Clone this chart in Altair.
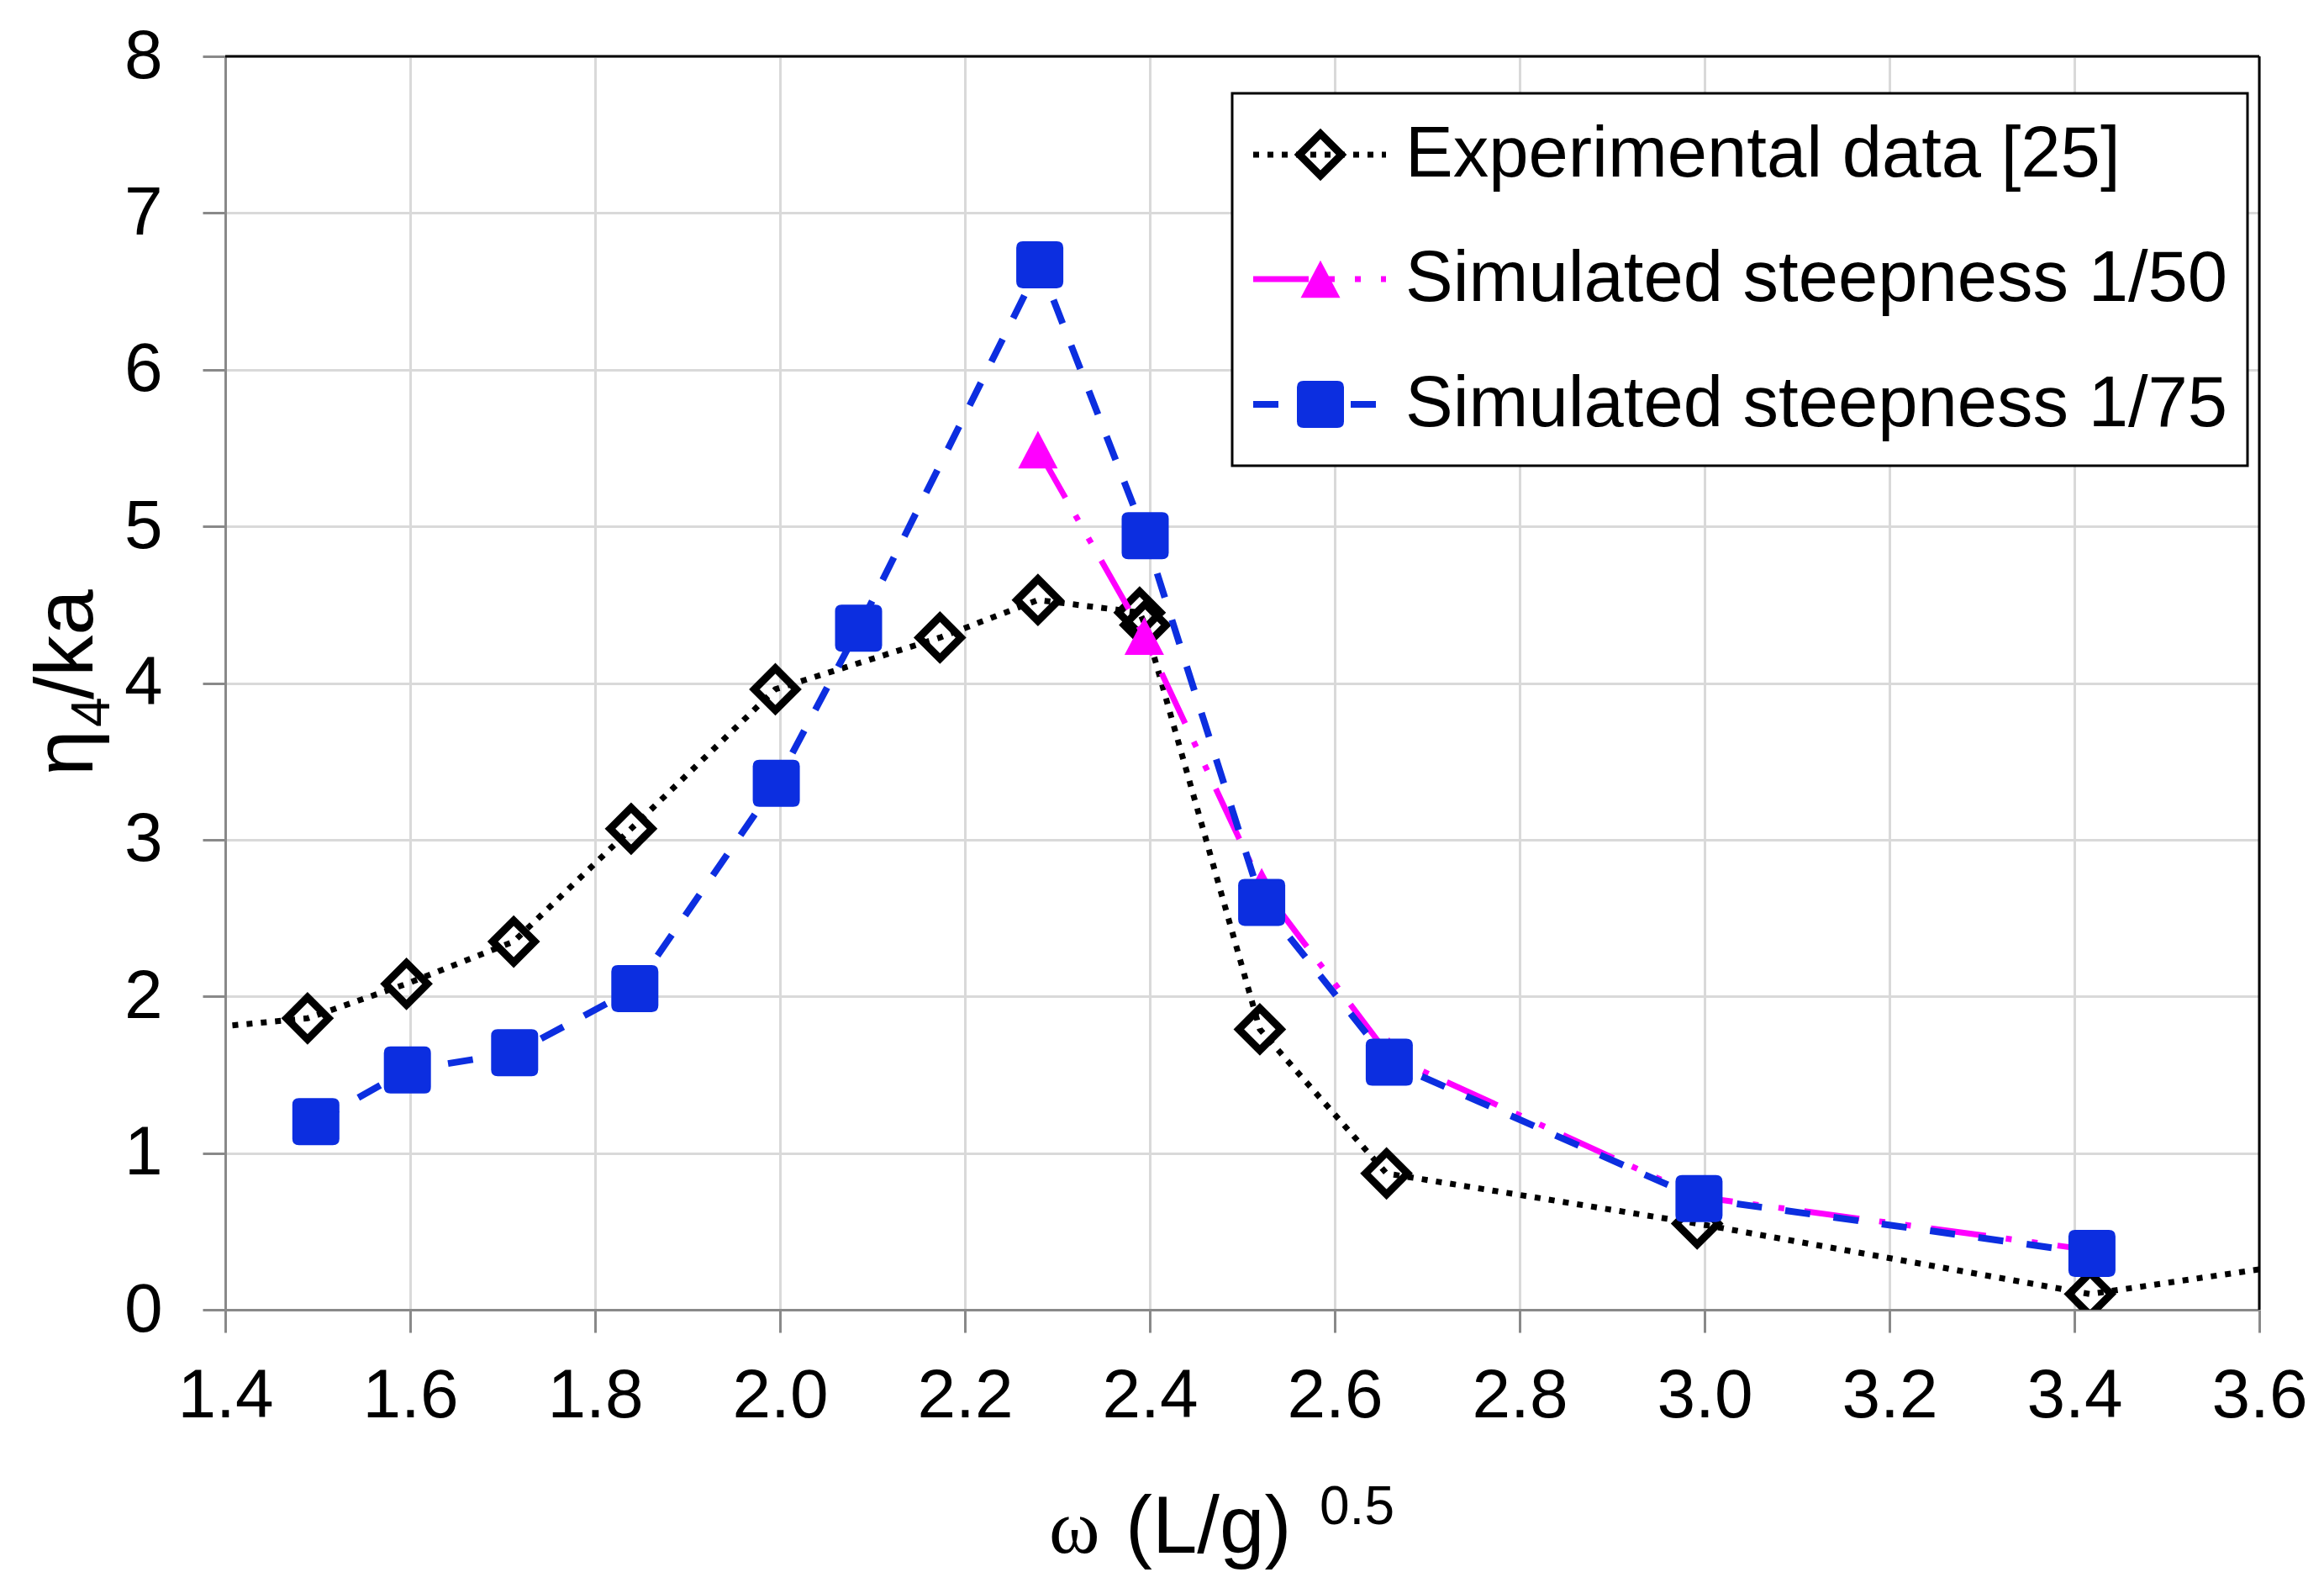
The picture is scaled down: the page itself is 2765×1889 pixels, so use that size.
import altair as alt
import pandas as pd

# ---------------- data ----------------
exp_x = [1.30, 1.489, 1.596, 1.712, 1.839, 1.995, 2.173, 2.279, 2.389, 2.395, 2.519, 2.656, 2.992, 3.417, 3.80]
exp_y = [1.755, 1.86, 2.08, 2.35, 3.07, 3.96, 4.29, 4.53, 4.45, 4.37, 1.79, 0.87, 0.55, 0.10, 0.43]

s50_x = [2.279, 2.394, 2.521, 2.659, 2.994, 3.419]
s50_y = [5.49, 4.30, 2.70, 1.62, 0.72, 0.38]

s75_x = [1.498, 1.597, 1.713, 1.843, 1.996, 2.085, 2.281, 2.395, 2.521, 2.659, 2.994, 3.419]
s75_y = [1.20, 1.53, 1.64, 2.05, 3.36, 4.35, 6.67, 4.94, 2.60, 1.58, 0.71, 0.36]

labels = ["Experimental data [25]", "Simulated steepness 1/50", "Simulated steepness 1/75"]
x_ticks = [1.4, 1.6, 1.8, 2.0, 2.2, 2.4, 2.6, 2.8, 3.0, 3.2, 3.4, 3.6]
y_ticks = [0, 1, 2, 3, 4, 5, 6, 7, 8]

# ---------------- layout / style ----------------
W, H = 2420, 1491
FONT = "Liberation Sans"
AX_GRAY = "#898989"
BLUE = "#0C2EE0"
MAGENTA = "#FF00FF"

ROUND_SQ = ("M-0.72,-1H0.72Q1,-1 1,-0.72V0.72Q1,1 0.72,1H-0.72Q-1,1 -1,0.72"
            "V-0.72Q-1,-1 -0.72,-1Z")
TRI = "M0,-0.95L1,0.95L-1,0.95Z"

styles = [
    dict(color="black", width=7, dash=[7, 10], shape="diamond", size=2500, filled=False),
    dict(color=MAGENTA, width=7, dash=[66, 24, 7, 24, 7, 24], shape=TRI, size=2209, filled=True),
    dict(color=BLUE, width=8, dash=[30, 28], shape=ROUND_SQ, size=3136, filled=True),
]
DIAMOND_STROKE = 9

series_xy = [(exp_x, exp_y), (s50_x, s50_y), (s75_x, s75_y)]

x_enc = alt.X(
    "x:Q",
    scale=alt.Scale(domain=[1.4, 3.6], nice=False, zero=False),
    axis=alt.Axis(values=x_ticks, format=".1f", title=None, labelPadding=35,
                  labelFlush=False, labelOverlap=False, labelBound=False),
)
y_enc = alt.Y(
    "y:Q",
    scale=alt.Scale(domain=[0, 8], nice=False),
    axis=alt.Axis(values=y_ticks, format="d", title=None, labelPadding=48,
                  labelFlush=False, labelOverlap=False),
)

one = pd.DataFrame({"_": [0]})
layers = []

for (xs, ys), st, lab in zip(series_xy, styles, labels):
    df = pd.DataFrame({"x": xs, "y": ys, "series": lab})
    base = alt.Chart(df)
    layers.append(
        base.mark_line(color=st["color"], strokeWidth=st["width"], strokeDash=st["dash"],
                       strokeCap="butt", clip=True).encode(x=x_enc, y=y_enc)
    )
    if st["filled"]:
        pt = base.mark_point(shape=st["shape"], size=st["size"], filled=True,
                             color=st["color"], opacity=1, strokeWidth=0, clip=True)
    else:
        pt = base.mark_point(shape=st["shape"], size=st["size"], filled=False,
                             stroke=st["color"], strokeWidth=DIAMOND_STROKE, opacity=1, clip=True)
    layers.append(pt.encode(x=x_enc, y=y_enc))

# plot border (top / right black lines)
layers.append(alt.Chart(one).mark_rule(color="black", strokeWidth=3).encode(
    x=alt.value(0), x2=alt.value(W), y=alt.value(0)))
layers.append(alt.Chart(one).mark_rule(color="black", strokeWidth=3).encode(
    x=alt.value(W), y=alt.value(0), y2=alt.value(H)))

# legend
layers.append(alt.Chart(one).mark_rect(fill="white", stroke="black", strokeWidth=3).encode(
    x=alt.value(1198), x2=alt.value(2406), y=alt.value(44), y2=alt.value(487)))
row_y = [117, 265, 414]
for st, lab, ry in zip(styles, labels, row_y):
    layers.append(alt.Chart(one).mark_rule(color=st["color"], strokeWidth=st["width"],
                                           strokeDash=st["dash"], strokeCap="butt").encode(
        x=alt.value(1223), x2=alt.value(1381), y=alt.value(ry)))
    if st["filled"]:
        lp = alt.Chart(one).mark_point(shape=st["shape"], size=st["size"], filled=True,
                                       color=st["color"], opacity=1, strokeWidth=0)
    else:
        lp = alt.Chart(one).mark_point(shape=st["shape"], size=st["size"], filled=False,
                                       stroke=st["color"], strokeWidth=DIAMOND_STROKE, opacity=1)
    layers.append(lp.encode(x=alt.value(1303), y=alt.value(ry)))
    layers.append(alt.Chart(one).mark_text(text=lab, font=FONT, fontSize=85, color="black",
                                           align="left", baseline="middle").encode(
        x=alt.value(1404), y=alt.value(ry)))

# x-axis title: ω (L/g) ^0.5
layers.append(alt.Chart(one).mark_text(text="ω", font="Liberation Serif", fontSize=92,
                                       align="left", baseline="alphabetic", color="black").encode(
    x=alt.value(980), y=alt.value(1780)))
layers.append(alt.Chart(one).mark_text(text="(L/g)", font=FONT, fontSize=96,
                                       align="left", baseline="alphabetic", color="black").encode(
    x=alt.value(1071), y=alt.value(1780)))
layers.append(alt.Chart(one).mark_text(text="0.5", font=FONT, fontSize=64,
                                       align="left", baseline="alphabetic", color="black").encode(
    x=alt.value(1302), y=alt.value(1746)))

# y-axis title: η4/ka (rotated)
layers.append(alt.Chart(one).mark_text(text="η", font=FONT, fontSize=98, angle=270,
                                       align="left", baseline="alphabetic", color="black").encode(
    x=alt.value(-158), y=alt.value(856)))
layers.append(alt.Chart(one).mark_text(text="4", font=FONT, fontSize=64, angle=270,
                                       align="left", baseline="alphabetic", color="black").encode(
    x=alt.value(-138), y=alt.value(798)))
layers.append(alt.Chart(one).mark_text(text="/ka", font=FONT, fontSize=98, angle=270,
                                       align="left", baseline="alphabetic", color="black").encode(
    x=alt.value(-158), y=alt.value(765)))

chart = alt.layer(*layers).properties(
    width=W,
    height=H,
    autosize=alt.AutoSizeParams(type="none"),
    padding={"left": 260, "top": 59, "right": 60, "bottom": 322},
    background="white",
).configure_view(stroke=None).configure_axis(
    labelFont=FONT,
    labelFontSize=82,
    labelColor="black",
    domainColor=AX_GRAY,
    domainWidth=3,
    tickColor=AX_GRAY,
    tickWidth=3,
    tickSize=27,
    gridColor="#d9d9d9",
    gridWidth=3,
    grid=True,
)

chart.save("out.html", embed_options={"renderer": "svg", "actions": False})
